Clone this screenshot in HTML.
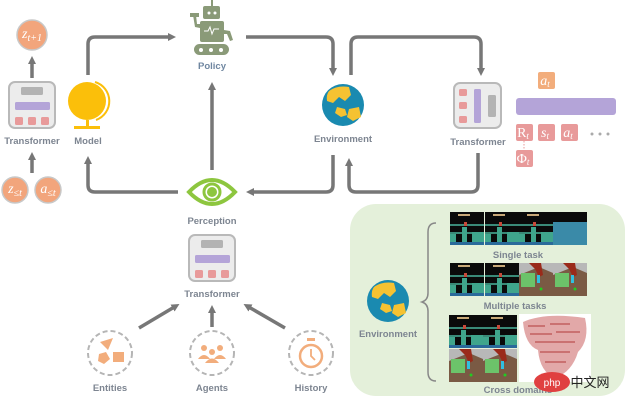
<!DOCTYPE html>
<html><head><meta charset="utf-8"><style>
html,body{margin:0;padding:0;background:#fff;width:631px;height:416px;overflow:hidden}
svg{display:block}
text{font-family:"Liberation Sans",sans-serif;font-weight:bold;font-size:9.5px;fill:#7d8591;text-anchor:middle}
.m{font-family:"Liberation Serif",serif;font-style:italic;font-weight:normal;fill:#fff;font-size:14px}
</style></head><body>
<svg width="631" height="416" viewBox="0 0 631 416" xmlns="http://www.w3.org/2000/svg">
<defs>
<marker id="ah" markerWidth="8" markerHeight="8" refX="4" refY="4" orient="auto" markerUnits="userSpaceOnUse" viewBox="0 0 8 8"><path d="M0,0 L8,4 L0,8z" fill="#777"/></marker>
<g id="game">
<rect width="34" height="33" fill="#0a0a0a"/>
<rect x="8" y="2" width="12" height="2" fill="#c8a878"/>
<rect x="0" y="12" width="34" height="2" fill="#3a8a78"/>
<rect x="0" y="20" width="34" height="2" fill="#3a8a78"/>
<rect x="0" y="22" width="6" height="8" fill="#3fa58c"/>
<rect x="12" y="15" width="5" height="15" fill="#3fa58c"/>
<rect x="22" y="20" width="12" height="10" fill="#3fa58c"/>
<rect x="14" y="10" width="3" height="4" fill="#c84a3a"/>
<rect x="0" y="30" width="34" height="3" fill="#2a6a9a"/>
</g>
<g id="rob">
<rect width="34" height="33" fill="#7a5a44"/>
<path d="M0,0 H34 V10 L20,4 L0,12z" fill="#b8b8b8"/>
<path d="M10,0 L22,0 L24,12 L20,14 L16,6z" fill="#9a2a1a"/>
<rect x="2" y="10" width="14" height="14" fill="#6cc36a"/>
<rect x="18" y="12" width="3" height="8" fill="#30c0e0"/>
<circle cx="22" cy="26" r="1.5" fill="#2c2"/>
</g>
<g id="tf">
<rect x="0" y="0" width="46" height="46" rx="6" fill="#ececec" stroke="#b9b9b9" stroke-width="2"/>
<rect x="12" y="5" width="22" height="8" rx="1.5" fill="#b3b3b3"/>
<rect x="6" y="20" width="35" height="8" rx="1.5" fill="#b4a4d8"/>
<rect x="6" y="35" width="8" height="8" rx="1.5" fill="#e89a9a"/>
<rect x="19" y="35" width="8" height="8" rx="1.5" fill="#e89a9a"/>
<rect x="32" y="35" width="8" height="8" rx="1.5" fill="#e89a9a"/>
</g>
<g id="globe">
<circle r="21" fill="#1a8ab0"/>
<path d="M-14,-14 Q-6,-20 6,-18 L8,-10 L2,-4 L-4,-8 L-10,-2 L-16,-4 Q-17,-10 -14,-14z" fill="#f5c232"/>
<path d="M-6,2 L2,4 L4,10 L-2,12 L-8,8z" fill="#f5c232"/>
<path d="M6,4 L16,2 L18,12 L10,16 L4,12z" fill="#f5c232"/>
</g>
</defs>

<g fill="none" stroke="#777" stroke-width="3.5">
<line x1="32" y1="78" x2="32" y2="60" marker-end="url(#ah)"/>
<line x1="32" y1="173" x2="32" y2="156" marker-end="url(#ah)"/>
<path d="M88,75 V44 Q88,37 95,37 H172" marker-end="url(#ah)"/>
<path d="M246,37 H326 Q333,37 333,44 V72" marker-end="url(#ah)"/>
<path d="M351,75 V44 Q351,37 358,37 H474 Q481,37 481,44 V72" marker-end="url(#ah)"/>
<path d="M478,153 V185 Q478,192 471,192 H356 Q349,192 349,185 V162" marker-end="url(#ah)"/>
<path d="M333,155 V185 Q333,192 326,192 H250" marker-end="url(#ah)"/>
<path d="M178,192 H95 Q88,192 88,185 V160" marker-end="url(#ah)"/>
<line x1="212" y1="170" x2="212" y2="86" marker-end="url(#ah)"/>
<line x1="139" y1="328" x2="176" y2="306" marker-end="url(#ah)"/>
<line x1="212" y1="327" x2="212" y2="309" marker-end="url(#ah)"/>
<line x1="285" y1="328" x2="247" y2="306" marker-end="url(#ah)"/>
</g>

<circle cx="32" cy="35" r="15" fill="#f2a57c" stroke="#c8c8c8" stroke-width="1.5"/>
<text class="m" x="32" y="38">z<tspan font-size="10" dy="3">t+1</tspan></text>
<use href="#tf" x="9" y="82"/>
<text x="32" y="144">Transformer</text>
<circle cx="15" cy="190" r="13" fill="#f2a57c" stroke="#c8c8c8" stroke-width="1.5"/>
<text class="m" x="15" y="193">z<tspan font-size="10" dy="3">≤t</tspan></text>
<circle cx="48" cy="190" r="13" fill="#f2a57c" stroke="#c8c8c8" stroke-width="1.5"/>
<text class="m" x="48" y="193">a<tspan font-size="10" dy="3">≤t</tspan></text>

<circle cx="87" cy="101" r="19" fill="#fbbf0a"/>
<path d="M95,82 A20,20 0 0 1 96,120" fill="none" stroke="#fbbf0a" stroke-width="2"/>
<rect x="86" y="120" width="3" height="6" fill="#fbbf0a"/>
<rect x="74" y="126" width="26" height="3" fill="#fbbf0a"/>
<text x="88" y="144">Model</text>

<g fill="#8a9a78">
<rect x="211" y="0" width="2" height="6"/>
<rect x="203" y="6" width="17" height="13" rx="2"/>
<rect x="200" y="21" width="24" height="21" rx="2"/>
<rect x="194" y="44" width="35" height="11" rx="5.5"/>
<path d="M200,28 L195,27 L193,15 L196,15 L197,24 L200,24z"/>
<path d="M190,13 h9 v4 h-9z"/>
<path d="M224,30 L230,31 L233,40 L230,41 L227,34 L224,34z"/>
</g>
<g fill="#fff"><circle cx="209" cy="13" r="1.5"/><circle cx="215" cy="13" r="1.5"/><circle cx="201" cy="50" r="2"/><circle cx="211" cy="50" r="2"/><circle cx="221" cy="50" r="2"/></g>
<path d="M204,31 h4 l2,-4 l2,7 l2,-5 h5" stroke="#fff" fill="none" stroke-width="1"/>
<text x="212" y="69" style="fill:#6f86a0">Policy</text>

<use href="#globe" x="343" y="105"/>
<text x="343" y="142">Environment</text>

<path d="M189,192 Q212,168 235,192 Q212,216 189,192z" fill="none" stroke="#8dc63f" stroke-width="4"/>
<circle cx="212" cy="192" r="8" fill="none" stroke="#8dc63f" stroke-width="3"/>
<circle cx="212" cy="192" r="5" fill="#8dc63f"/>
<text x="212" y="224">Perception</text>

<rect x="454" y="83" width="47" height="45" rx="6" fill="#ececec" stroke="#b9b9b9" stroke-width="2"/>
<rect x="459" y="89" width="8" height="7" rx="1.5" fill="#e89a9a"/>
<rect x="459" y="102" width="8" height="7" rx="1.5" fill="#e89a9a"/>
<rect x="459" y="116" width="8" height="7" rx="1.5" fill="#e89a9a"/>
<rect x="474" y="89" width="7" height="34" rx="1.5" fill="#b4a4d8"/>
<rect x="488" y="95" width="8" height="22" rx="1.5" fill="#b3b3b3"/>
<text x="478" y="145">Transformer</text>

<rect x="538" y="72" width="17" height="17" rx="2" fill="#f2ad7c"/>
<text class="m" x="545" y="85">a<tspan font-size="9" dy="2">t</tspan></text>
<rect x="516" y="98" width="100" height="17" rx="3" fill="#b4a4d8"/>
<rect x="516" y="124" width="17" height="17" rx="2" fill="#e89a9a"/>
<text class="m" x="523" y="137" style="font-style:normal">R<tspan font-size="9" dy="2" font-style="italic">t</tspan></text>
<rect x="538" y="124" width="17" height="17" rx="2" fill="#e89a9a"/>
<text class="m" x="545" y="137">s<tspan font-size="9" dy="2">t</tspan></text>
<rect x="561" y="124" width="17" height="17" rx="2" fill="#e89a9a"/>
<text class="m" x="568" y="137">a<tspan font-size="9" dy="2">t</tspan></text>
<g fill="#aaa"><circle cx="592" cy="134" r="1.5"/><circle cx="600" cy="134" r="1.5"/><circle cx="608" cy="134" r="1.5"/></g>
<line x1="524" y1="141" x2="524" y2="150" stroke="#e89a9a" stroke-dasharray="1.5,1.5"/>
<rect x="516" y="150" width="17" height="17" rx="2" fill="#e89a9a"/>
<text class="m" x="523" y="163" style="font-style:normal">Φ<tspan font-size="9" dy="2" font-style="italic">t</tspan></text>

<use href="#tf" x="189" y="235"/>
<text x="212" y="297">Transformer</text>
<g fill="none" stroke="#b5b5b5" stroke-width="2" stroke-dasharray="5,3">
<circle cx="110" cy="353" r="22"/><circle cx="212" cy="353" r="22"/><circle cx="311" cy="353" r="22"/>
</g>
<g fill="#f2ad7c">
<path d="M100,342 L113,338 L108,350z"/>
<path d="M99,354 L106,352 L110,359 L104,364 L98,361z"/>
<rect x="113" y="352" width="11" height="10"/>
<circle cx="204" cy="348" r="3"/><circle cx="220" cy="348" r="3"/><circle cx="212" cy="352" r="3"/>
<path d="M198,359 q6,-8 12,0z M214,359 q6,-8 12,0z M205,363 q7,-9 14,0z"/>
</g>
<circle cx="311" cy="356" r="11" fill="none" stroke="#f2ad7c" stroke-width="2.5"/>
<rect x="307" y="338" width="8" height="3" fill="#f2ad7c"/>
<path d="M311,349 V356 L315,360" stroke="#f2ad7c" stroke-width="1.8" fill="none"/>
<text x="110" y="391">Entities</text>
<text x="212" y="391">Agents</text>
<text x="311" y="391">History</text>

<rect x="350" y="204" width="275" height="192" rx="26" fill="#e4f0da"/>
<use href="#globe" x="388" y="301"/>
<text x="388" y="337">Environment</text>
<path d="M436,223 Q428,223 428,232 V293 Q428,300 422,302 Q428,304 428,311 V372 Q428,381 436,381" fill="none" stroke="#888" stroke-width="1.5"/>

<use href="#game" x="450" y="212"/><use href="#game" x="485" y="212"/><use href="#game" x="519" y="212"/>
<g><rect x="553" y="212" width="34" height="33" fill="#0a0a0a"/><rect x="553" y="222" width="34" height="23" fill="#3a8aa8"/></g>
<text x="518" y="258">Single task</text>
<use href="#game" x="450" y="263"/><use href="#game" x="485" y="263"/><use href="#rob" x="519" y="263"/><use href="#rob" x="553" y="263"/>
<text x="515" y="309">Multiple tasks</text>
<use href="#game" x="449" y="315"/><use href="#game" x="483" y="315"/>
<use href="#rob" x="449" y="349"/><use href="#rob" x="483" y="349"/>
<rect x="519" y="314" width="72" height="68" fill="#fff"/>
<path d="M523,322 Q545,312 585,318 Q590,340 578,352 Q572,372 555,378 Q540,372 538,350 Q525,345 523,322z" fill="#e2a8a8"/>
<g stroke="#c05a5a" stroke-width="2" opacity="0.7">
<line x1="528" y1="326" x2="545" y2="326"/><line x1="550" y1="324" x2="570" y2="324"/><line x1="530" y1="334" x2="552" y2="334"/><line x1="556" y1="332" x2="580" y2="332"/><line x1="535" y1="342" x2="575" y2="342"/><line x1="540" y1="352" x2="570" y2="352"/><line x1="545" y1="362" x2="566" y2="362"/>
</g>
<text x="518" y="393">Cross domains</text>
<ellipse cx="552" cy="382" rx="18" ry="10" fill="#e04040"/>
<text x="552" y="386" style="fill:#fff;font-size:10px;font-weight:normal">php</text>
<text x="590" y="387" style="fill:#222;font-size:13px;font-weight:normal;font-family:'Liberation Sans','Noto Sans CJK SC',sans-serif">中文网</text>
</svg>
</body></html>
